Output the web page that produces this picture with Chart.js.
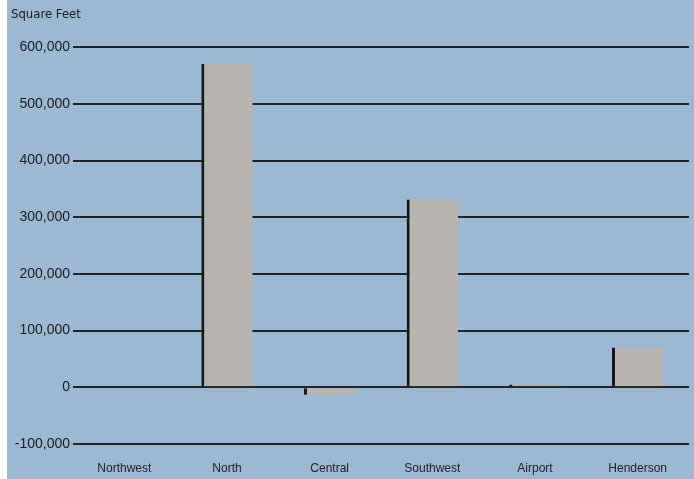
<!DOCTYPE html>
<html>
<head>
<meta charset="utf-8">
<script src="https://cdn.jsdelivr.net/npm/chart.js@4"></script>
<style>
  html, body { margin: 0; padding: 0; background: #fff; }
  #wrap { position: absolute; left: 7px; top: 0; width: 687px; height: 479px; background: #9bb9d3; }
</style>
</head>
<body>
<div id="wrap"><canvas id="chart" width="687" height="479"></canvas></div>
<script>
// Chart data
const regions = ["Northwest", "North", "Central", "Southwest", "Airport", "Henderson"];
const squareFeet = [0, 570000, -13000, 331000, 5000, 70000];
const yTicks = [-100000, 0, 100000, 200000, 300000, 400000, 500000, 600000];

const font = "'Liberation Sans', Arial, sans-serif";

new Chart(document.getElementById("chart"), {
  type: "bar",
  data: {
    labels: regions,
    datasets: [
      {
        label: "Square Feet",
        data: squareFeet,
        backgroundColor: "#b8b4b0",
        borderColor: "#16150f",
        borderWidth: { left: 3, top: 0, right: 0, bottom: 0 },
        borderSkipped: false,
        categoryPercentage: 0.5,
        barPercentage: 1,
      },
    ],
  },
  options: {
    responsive: false,
    animation: false,
    devicePixelRatio: 1,
    layout: { padding: { left: 4, right: 5, top: 0, bottom: 4 } },
    plugins: {
      legend: { display: false },
      tooltip: { enabled: false },
      title: {
        display: true,
        text: "Square Feet",
        align: "start",
        color: "#1a1a1a",
        font: { family: "'Liberation Sans Narrow', 'DejaVu Sans Condensed', sans-serif", size: 13, weight: "normal" },
        padding: { top: 7, bottom: 24.5 },
      },
    },
    scales: {
      x: {
        grid: { display: false, drawTicks: false },
        border: { display: false },
        afterFit: (scale) => { scale.height = 31; },
        ticks: { color: "#222", font: { family: font, size: 12 }, padding: 17, maxRotation: 0 },
      },
      y: {
        min: yTicks[0],
        max: yTicks[yTicks.length - 1],
        afterBuildTicks: (scale) => { scale.ticks = yTicks.map((v) => ({ value: v })); },
        afterFit: (scale) => { scale.width = 62; },
        grid: { color: "#242424", lineWidth: 2, drawTicks: false },
        border: { display: false },
        ticks: {
          color: "#1a1a1a",
          font: { family: font, size: 14 },
          padding: 3,
          callback: (v) => v.toLocaleString("en-US"),
        },
      },
    },
  },
});
</script>
</body>
</html>
